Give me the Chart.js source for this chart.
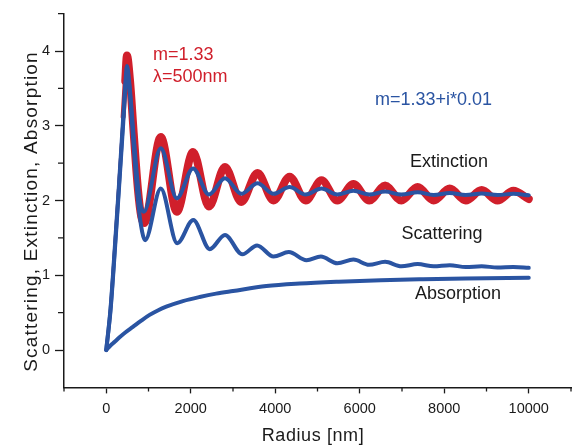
<!DOCTYPE html>
<html>
<head>
<meta charset="utf-8">
<script src="https://cdn.jsdelivr.net/npm/chart.js@4.4.1/dist/chart.umd.min.js"></script>
<style>
  html, body { margin: 0; padding: 0; background: #fff; }
  #wrap { width: 572px; height: 447px; }
</style>
</head>
<body>
<div id="wrap"><canvas id="myChart" width="572" height="447"></canvas></div>
<script>
// Mie efficiencies vs radius

// m = 1.33 (no absorption), extinction
const redRadius = [0, 100, 200, 300, 400, 450, 490, 560, 650, 750, 830, 900, 1290, 1670, 2055, 2430, 2810, 3195, 3580, 3960, 4340, 4720, 5095, 5470, 5850, 6225, 6600, 6985, 7370, 7750, 8130, 8510, 8886, 9260, 9635, 10000]
const redValues = [0, 0.55, 1.38, 2.25, 3.12, 3.6, 3.94, 3.62, 2.9, 2.15, 1.78, 1.70, 2.85, 1.85, 2.65, 1.92, 2.45, 1.98, 2.37, 2.00, 2.32, 2.00, 2.27, 2.00, 2.22, 2.00, 2.20, 2.00, 2.18, 2.00, 2.16, 2.00, 2.14, 2.00, 2.13, 2.02]

// m = 1.33 + i*0.01
const extRadius = [0, 100, 200, 300, 400, 450, 490, 550, 650, 750, 820, 890, 1290, 1670, 2055, 2430, 2810, 3195, 3580, 3960, 4340, 4720, 5095, 5470, 5850, 6225, 6600, 6985, 7370, 7750, 8130, 8510, 8886, 9260, 9635, 10000]
const extValues = [0, 0.55, 1.35, 2.2, 3.1, 3.55, 3.80, 3.55, 2.85, 2.2, 1.92, 1.85, 2.70, 2.03, 2.43, 2.08, 2.30, 2.09, 2.23, 2.09, 2.18, 2.08, 2.16, 2.08, 2.13, 2.08, 2.12, 2.08, 2.11, 2.075, 2.10, 2.075, 2.095, 2.075, 2.09, 2.07]

const scatRadius = [0, 100, 200, 300, 400, 450, 490, 550, 650, 750, 850, 920, 1290, 1680, 2060, 2450, 2810, 3220, 3570, 3960, 4320, 4740, 5080, 5470, 5850, 6220, 6600, 6985, 7370, 7750, 8130, 8510, 8886, 9260, 9635, 10000]
const scatValues = [0, 0.52, 1.3, 2.15, 3.02, 3.47, 3.72, 3.5, 2.72, 2.0, 1.58, 1.47, 2.16, 1.43, 1.74, 1.35, 1.54, 1.28, 1.40, 1.25, 1.31, 1.20, 1.25, 1.16, 1.21, 1.14, 1.18, 1.12, 1.15, 1.12, 1.135, 1.11, 1.12, 1.105, 1.11, 1.10]

const absRadius = [0, 100, 200, 315, 450, 630, 820, 1026, 1220, 1420, 1815, 2210, 2600, 3000, 3790, 4580, 5500, 6500, 7500, 8500, 10000]
const absValues = [0, 0.06, 0.11, 0.17, 0.235, 0.31, 0.39, 0.47, 0.53, 0.58, 0.655, 0.71, 0.755, 0.79, 0.856, 0.89, 0.915, 0.935, 0.948, 0.958, 0.967]

const xTicks = [0, 2000, 4000, 6000, 8000, 10000]
const xMinor = [-1000, 1000, 3000, 5000, 7000, 9000, 11000]
const yTicks = [0, 1, 2, 3, 4]
const yMinor = [0.5, 1.5, 2.5, 3.5, 4.5]

const FONT = '"Liberation Sans", Arial, Helvetica, sans-serif'
const RED = '#d01f2b'
const BLUE = '#2a54a2'
const INK = '#1a1a1a'

const toPoints = (xs, ys) => xs.map((r, i) => ({ x: r, y: ys[i] }))

const series = (label, xs, ys, color, width) => ({
    label,
    data: toPoints(xs, ys),
    borderColor: color,
    borderWidth: width,
    pointRadius: 0,
    fill: false
})

// texts on the plot
const notes = [
    { text: 'm=1.33', x: 153, y: 60, color: RED },
    { text: 'λ=500nm', x: 153, y: 81.5, color: RED },
    { text: 'm=1.33+i*0.01', x: 375, y: 105, color: BLUE },
    { text: 'Extinction', x: 410, y: 166.5, color: INK },
    { text: 'Scattering', x: 401.5, y: 238.5, color: INK },
    { text: 'Absorption', x: 415, y: 298.5, color: INK }
]

const extras = {
    id: 'extras',
    afterDraw(chart) {
        const { ctx, scales: { x, y } } = chart
        ctx.save()
        // minor ticks
        ctx.strokeStyle = INK
        ctx.lineWidth = 1.3
        ctx.beginPath()
        xMinor.forEach(v => {
            const px = x.getPixelForValue(v)
            ctx.moveTo(px, x.top)
            ctx.lineTo(px, x.top + 4)
        })
        yMinor.forEach(v => {
            const py = y.getPixelForValue(v)
            ctx.moveTo(y.right, py)
            ctx.lineTo(y.right - 6, py)
        })
        ctx.stroke()

        // annotations
        ctx.font = '18px ' + FONT
        ctx.textAlign = 'left'
        ctx.textBaseline = 'alphabetic'
        notes.forEach(n => {
            ctx.fillStyle = n.color
            ctx.fillText(n.text, n.x, n.y)
        })

        // axis titles
        ctx.fillStyle = INK
        ctx.textAlign = 'center'
        ctx.font = '18px ' + FONT
        ctx.letterSpacing = '0.6px'
        ctx.fillText('Radius [nm]', 313, 440.7)
        ctx.translate(37, 211.5)
        ctx.rotate(-Math.PI / 2)
        ctx.font = '19px ' + FONT
        ctx.letterSpacing = '1.2px'
        ctx.fillText('Scattering, Extinction, Absorption', 0, 0)
        ctx.restore()
    }
}

const redSet = series('Extinction m=1.33', redRadius, redValues, RED, 8)
// the ripple band is thin on the steep rise
redSet.segment = { borderWidth: c => (c.p0.parsed.x < 400 ? 3 : c.p0.parsed.x < 450 ? 5 : 8) }

const ctx = document.getElementById('myChart').getContext('2d')
const myChart = new Chart(ctx, {
    type: 'line',
    data: {
        datasets: [
            series('Extinction', extRadius, extValues, BLUE, 4),
            series('Scattering', scatRadius, scatValues, BLUE, 4),
            series('Absorption', absRadius, absValues, BLUE, 4),
            redSet
        ]
    },
    options: {
        responsive: false,
        animation: false,
        events: [],
        layout: { padding: { left: 0, right: 1, top: 13.4, bottom: 0 } },
        elements: {
            line: {
                tension: 0.4,
                cubicInterpolationMode: 'monotone',
                borderCapStyle: 'round',
                borderJoinStyle: 'round'
            }
        },
        plugins: {
            legend: { display: false },
            tooltip: { enabled: false }
        },
        scales: {
            x: {
                type: 'linear',
                min: -1000,
                max: 11000,
                afterBuildTicks: s => { s.ticks = xTicks.map(v => ({ value: v })) },
                afterFit: s => { s.height = 59.6 },
                grid: { drawOnChartArea: false, tickLength: 6, tickColor: INK, tickWidth: 1.3 },
                border: { color: INK, width: 1.5 },
                ticks: {
                    font: { family: FONT, size: 14.5 },
                    color: INK,
                    padding: 7,
                    maxRotation: 0,
                    callback: v => String(v)
                }
            },
            y: {
                type: 'linear',
                min: -0.5,
                max: 4.5,
                afterBuildTicks: s => { s.ticks = yTicks.map(v => ({ value: v })) },
                afterFit: s => { s.width = 64 },
                grid: { drawOnChartArea: false, tickLength: 9, tickColor: INK, tickWidth: 1.3 },
                border: { color: INK, width: 1.5 },
                ticks: {
                    font: { family: FONT, size: 14.5 },
                    color: INK,
                    padding: 5,
                    callback: v => String(v)
                }
            }
        }
    },
    plugins: [extras]
})
</script>
</body>
</html>
